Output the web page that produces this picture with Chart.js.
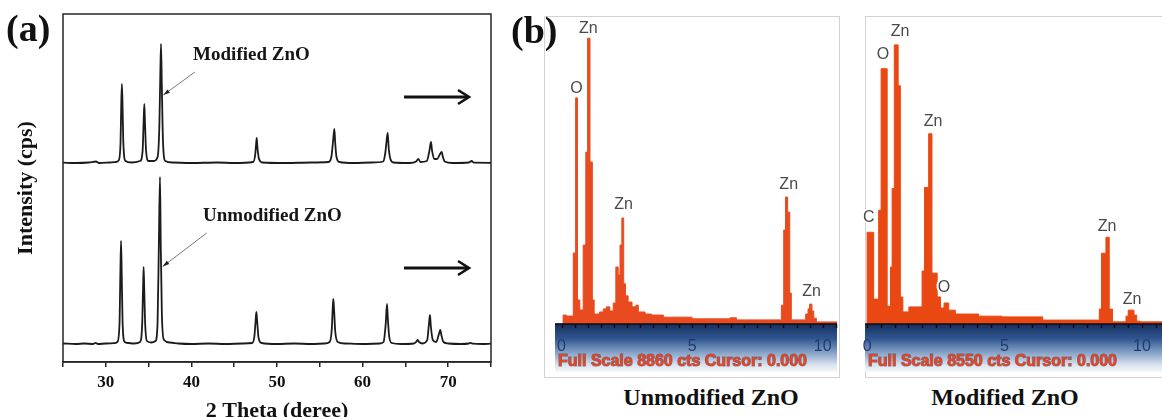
<!DOCTYPE html>
<html>
<head>
<meta charset="utf-8">
<script src="https://cdn.jsdelivr.net/npm/chart.js@4.4.1/dist/chart.umd.min.js"></script>
<style>
  html, body { margin: 0; padding: 0; background: #fff; }
  body { width: 1162px; height: 417px; position: relative; overflow: hidden; }
  canvas { position: absolute; }
  .lbl { position: absolute; font-family: 'Liberation Serif', 'Times New Roman', serif; font-weight: bold;
         color: #111; white-space: nowrap; line-height: 1; }
</style>
</head>
<body>
<canvas id="xrd" width="510" height="417" style="left:0;top:0"></canvas>
<canvas id="edsA" width="296" height="362" style="left:544px;top:16px"></canvas>
<canvas id="edsB" width="300" height="362" style="left:862px;top:16px"></canvas>
<div class="lbl" style="left:6px;top:9px;font-size:38px">(a)</div>
<div class="lbl" style="left:511px;top:11px;font-size:38px">(b)</div>
<div class="lbl" style="left:561px;top:385px;width:300px;text-align:center;font-size:24px">Unmodified ZnO</div>
<div class="lbl" style="left:855px;top:385px;width:300px;text-align:center;font-size:24px">Modified ZnO</div>
<script>
// (a) XRD patterns, 2θ in degrees, intensity above each pattern's own baseline
const unmodTheta = [25, 26.5, 27.5, 28.5, 28.8, 29.1, 30, 31, 31.35, 31.6, 31.7, 31.78, 31.86, 31.96, 32.2, 32.6,
  33.3, 34, 34.25, 34.35, 34.42, 34.5, 34.6, 34.8, 35.3, 35.8, 36.05, 36.2, 36.33, 36.42, 36.55, 36.8, 37.5, 38.5,
  40, 42, 44, 46, 47.1, 47.35, 47.5, 47.59, 47.68, 47.85, 48.2, 50, 52, 54, 55.5, 56.15, 56.4, 56.5, 56.58, 56.67,
  56.8, 57.1, 58, 60, 62, 62.45, 62.7, 62.85, 62.95, 63.1, 63.4, 64.5, 66, 66.3, 66.44, 66.6, 67, 67.55, 67.75,
  67.87, 67.97, 68.2, 68.6, 68.95, 69.08, 69.2, 69.45, 70, 71.5, 72.4, 72.63, 72.85, 74, 75];
const unmodCps = [5, 0, 5, 0, 12, 0, 5, 8, 20, 200, 700, 1030, 700, 220, 20, 10,
  5, 20, 200, 550, 770, 520, 200, 30, 15, 30, 220, 1000, 1670, 1000, 300, 40, 15, 5,
  0, 5, 0, 5, 10, 70, 230, 320, 230, 60, 10, 0, 5, 0, 5, 20, 150, 340, 450, 340,
  130, 20, 5, 0, 5, 20, 200, 400, 250, 80, 10, 0, 5, 25, 40, 20, 5, 40, 200,
  290, 180, 40, 20, 110, 140, 90, 20, 5, 0, 5, 12, 3, 0, 3];
const modTheta = [25, 26.5, 28, 28.86, 29.2, 30.5, 31.2, 31.5, 31.72, 31.8, 31.88, 31.96, 32.05, 32.3, 33,
  34, 34.3, 34.42, 34.5, 34.58, 34.7, 35, 35.6, 36.05, 36.25, 36.36, 36.45, 36.55, 36.68, 36.95, 37.8,
  40, 43, 45, 47.2, 47.45, 47.55, 47.63, 47.72, 47.9, 48.3, 51, 54, 56, 56.35, 56.55, 56.7, 56.8, 56.95, 57.3,
  59, 61, 62.4, 62.65, 62.8, 62.93, 63.05, 63.25, 63.6, 65.5, 66.25, 66.51, 66.75, 67.5, 67.8, 67.99, 68.12,
  68.4, 68.7, 69.05, 69.24, 69.38, 69.6, 70.5, 72.4, 72.74, 73, 75];
const modCps = [3, 0, 5, 15, 0, 5, 10, 25, 200, 560, 790, 560, 200, 20, 5,
  20, 120, 420, 590, 400, 130, 20, 20, 60, 350, 850, 1190, 750, 220, 20, 5,
  0, 5, 0, 10, 80, 180, 250, 150, 40, 5, 0, 5, 10, 60, 220, 340, 200, 60, 10,
  0, 5, 15, 100, 220, 300, 150, 40, 5, 0, 15, 40, 10, 20, 120, 210, 120,
  40, 40, 90, 110, 60, 15, 0, 5, 20, 3, 2];
const unmodOffset = 180;
const modOffset = 1990;
const thetaLabels = [30, 40, 50, 60, 70];

// (b) EDS spectra, stepped: each count holds from its energy to the next one
const unmodKeV = [-0.25, 0.06, 0.19, 0.45, 0.54, 0.61, 0.70, 0.83, 0.93, 1.00, 1.09, 1.18, 1.25, 1.45, 1.60, 1.72,
  1.85, 1.98, 2.08, 2.17, 2.24, 2.31, 2.38, 2.45, 2.55, 2.70, 2.85, 2.94, 3.20, 3.45, 3.90, 5.00, 6.45, 6.70,
  8.42, 8.51, 8.58, 8.66, 8.74, 8.80, 9.35, 9.44, 9.50, 9.59, 9.66, 9.76, 10.55];
const unmodCts = [0, 260, 230, 2070, 6590, 700, 410, 2300, 5010, 8330, 4720, 700, 290, 350, 440, 500,
  380, 610, 1660, 1430, 2300, 3090, 1170, 820, 640, 500, 550, 350, 290, 260, 200, 150, 180, 120,
  550, 2740, 3700, 3260, 900, 120, 290, 440, 580, 380, 170, 60, 60];
const modKeV = [-0.04, 0.00, 0.24, 0.42, 0.51, 0.73, 0.85, 0.91, 0.99, 1.13, 1.21, 1.30, 1.52, 2.00, 2.09, 2.24,
  2.36, 2.55, 2.67, 2.80, 2.97, 3.21, 4.06, 4.91, 6.39, 8.45, 8.53, 8.69, 8.81, 8.93, 9.42, 9.50, 9.71, 9.81,
  9.93, 10.73];
const modCts = [0, 2580, 700, 3200, 7180, 500, 1600, 3810, 7850, 6700, 760, 340, 480, 1490, 3840, 5350,
  1430, 760, 450, 590, 390, 280, 220, 200, 110, 420, 1990, 2440, 420, 60, 220, 390, 250, 80,
  60, 60];
const unmodPeakText = ['O', 'Zn', 'Zn', 'Zn', 'Zn'];
const unmodPeakKeV = [0.57, 1.03, 2.38, 8.70, 9.58];
const unmodPeakCts = [6850, 8600, 3470, 4050, 930];
const modPeakText = ['C', 'O', 'Zn', 'Zn', 'O', 'Zn', 'Zn'];
const modPeakKeV = [0.06, 0.58, 1.20, 2.40, 2.80, 8.73, 9.64];
const modPeakCts = [2990, 7580, 8230, 5680, 1020, 2730, 690];
const energyLabels = [0, 5, 10];

const serif = "'Liberation Serif', 'Times New Roman', serif";
const sans = "'Liberation Sans', Arial, sans-serif";

function toPoints(xs, ys, offset) {
  return xs.map((x, i) => ({ x: x, y: ys[i] + (offset || 0) }));
}

function arrowHead(ctx, x1, y1, x2, y2, len, spread) {
  const a = Math.atan2(y2 - y1, x2 - x1);
  ctx.beginPath();
  ctx.moveTo(x2, y2);
  ctx.lineTo(x2 - len * Math.cos(a - spread), y2 - len * Math.sin(a - spread));
  ctx.lineTo(x2 - len * Math.cos(a + spread), y2 - len * Math.sin(a + spread));
  ctx.closePath();
  ctx.fill();
}

// labels + arrows of panel (a), placed in data units
const xrdNotes = [
  { text: 'Modified ZnO', x: 40.2, y: 3070, from: [40.42, 2900], to: [36.72, 2670], shift: 2650 },
  { text: 'Unmodified ZnO', x: 41.36, y: 1460, from: [41.79, 1290], to: [36.65, 955], shift: 940 }
];

const xrdDecor = {
  id: 'xrdDecor',
  afterDraw(chart) {
    const { ctx, chartArea: a, scales: { x, y } } = chart;
    ctx.save();
    ctx.strokeStyle = '#262626';
    ctx.lineWidth = 1.5;
    ctx.strokeRect(a.left, a.top, a.right - a.left, a.bottom - a.top);
    // x axis title, sits on the bottom edge like in the source figure
    ctx.fillStyle = '#111';
    ctx.font = 'bold 22px ' + serif;
    ctx.textAlign = 'center';
    ctx.textBaseline = 'alphabetic';
    ctx.fillText('2 Theta (deree)', (a.left + a.right) / 2, 417);
    xrdNotes.forEach(n => {
      ctx.fillStyle = '#161616';
      ctx.font = 'bold 19px ' + serif;
      ctx.textBaseline = 'middle';
      ctx.textAlign = 'left';
      ctx.fillText(n.text, x.getPixelForValue(n.x), y.getPixelForValue(n.y));
      const x1 = x.getPixelForValue(n.from[0]), y1 = y.getPixelForValue(n.from[1]);
      const x2 = x.getPixelForValue(n.to[0]), y2 = y.getPixelForValue(n.to[1]);
      ctx.strokeStyle = '#777';
      ctx.lineWidth = 1;
      ctx.beginPath();
      ctx.moveTo(x1, y1);
      ctx.lineTo(x2, y2);
      ctx.stroke();
      ctx.fillStyle = '#222';
      arrowHead(ctx, x1, y1, x2, y2, 7, 0.3);
      // shift arrow
      const sx1 = x.getPixelForValue(64.84), sx2 = x.getPixelForValue(72.43), sy = y.getPixelForValue(n.shift);
      ctx.strokeStyle = '#111';
      ctx.lineWidth = 3;
      ctx.beginPath();
      ctx.moveTo(sx1, sy);
      ctx.lineTo(sx2 - 1, sy);
      ctx.stroke();
      ctx.lineWidth = 2.6;
      ctx.beginPath();
      ctx.moveTo(sx2 - 11, sy - 7);
      ctx.lineTo(sx2, sy);
      ctx.lineTo(sx2 - 11, sy + 7);
      ctx.stroke();
    });
    ctx.restore();
  }
};

new Chart(document.getElementById('xrd'), {
  type: 'line',
  data: {
    datasets: [
      { label: 'Unmodified ZnO', data: toPoints(unmodTheta, unmodCps, unmodOffset) },
      { label: 'Modified ZnO', data: toPoints(modTheta, modCps, modOffset) }
    ]
  },
  options: {
    responsive: false,
    animation: false,
    layout: { padding: { left: 10, right: 19, top: 14, bottom: 0 } },
    elements: {
      point: { radius: 0 },
      line: { borderColor: '#1b1b1b', borderWidth: 1.8, cubicInterpolationMode: 'monotone' }
    },
    plugins: { legend: { display: false }, tooltip: { enabled: false } },
    scales: {
      x: {
        type: 'linear',
        min: 25,
        max: 75,
        afterFit: s => { s.height = 55; },
        ticks: {
          stepSize: 5,
          autoSkip: false,
          maxRotation: 0,
          padding: 5,
          color: '#111',
          font: { family: serif, size: 17, weight: 'bold' },
          callback: v => thetaLabels.includes(v) ? String(v) : ''
        },
        grid: { drawOnChartArea: false, tickLength: 5, color: '#222', lineWidth: 1.5 },
        border: { display: true, color: '#262626', width: 1.5 }
      },
      y: {
        min: 0,
        max: 3480,
        afterFit: s => { s.width = 53; },
        ticks: { display: false },
        grid: { display: false },
        border: { display: false },
        title: {
          display: true,
          text: 'Intensity (cps)',
          color: '#111',
          padding: { top: 5, bottom: 0 },
          font: { family: serif, size: 22, weight: 'bold', lineHeight: 1 }
        }
      }
    }
  },
  plugins: [xrdDecor]
});

// EDS screenshot look: frame, blue energy band, ticks, captions, peak names
const edsDecor = {
  id: 'edsDecor',
  beforeDraw(chart, args, o) {
    const { ctx } = chart;
    ctx.save();
    ctx.fillStyle = '#fff';
    ctx.fillRect(0, 0, chart.width, chart.height);
    ctx.strokeStyle = '#d2d2d2';
    ctx.lineWidth = 1;
    ctx.beginPath();
    ctx.moveTo(chart.width, 0.5);
    ctx.lineTo(o.frameLeft + 0.5, 0.5);
    ctx.lineTo(o.frameLeft + 0.5, chart.height - 0.5);
    ctx.lineTo(chart.width, chart.height - 0.5);
    if (o.frameRight) {
      ctx.moveTo(chart.width - 0.5, 0);
      ctx.lineTo(chart.width - 0.5, chart.height);
    }
    ctx.stroke();
    ctx.restore();
  },
  afterDatasetsDraw(chart, args, o) {
    const { ctx, chartArea: a, scales: { x, y } } = chart;
    const top = a.bottom, h = 48;
    const left = o.bandLeft;
    ctx.save();
    const g = ctx.createLinearGradient(0, top, 0, top + h);
    g.addColorStop(0, '#15305e');
    g.addColorStop(0.3, '#2f5590');
    g.addColorStop(0.6, '#87a3c8');
    g.addColorStop(0.85, '#d8e2ef');
    g.addColorStop(1, '#f6f8fb');
    ctx.fillStyle = g;
    ctx.fillRect(left, top, a.right - left, h);
    ctx.strokeStyle = '#0d0d18';
    ctx.lineWidth = 1.5;
    ctx.beginPath();
    ctx.moveTo(left, top);
    ctx.lineTo(a.right, top);
    for (let e = 0; e <= x.max; e += 0.5) {
      const px = Math.round(x.getPixelForValue(e)) + 0.5;
      ctx.moveTo(px, top);
      ctx.lineTo(px, top + 4);
    }
    ctx.stroke();
    ctx.font = '16px ' + sans;
    ctx.textAlign = 'center';
    ctx.textBaseline = 'middle';
    ctx.fillStyle = '#223a70';
    energyLabels.forEach(e => ctx.fillText(String(e), x.getPixelForValue(e), top + 23));
    ctx.textAlign = 'left';
    ctx.font = 'bold 16px ' + sans;
    ctx.lineWidth = 1.2;
    ctx.strokeStyle = 'rgba(60,30,60,0.55)';
    ctx.strokeText(o.caption, left + 3, top + 38, o.captionWidth);
    ctx.fillStyle = '#e8431b';
    ctx.fillText(o.caption, left + 3, top + 38, o.captionWidth);

    ctx.font = '16px ' + sans;
    ctx.textAlign = 'center';
    o.peakText.forEach((t, i) => {
      const px = x.getPixelForValue(o.peakKeV[i]), py = y.getPixelForValue(o.peakCts[i]);
      ctx.lineWidth = 4;
      ctx.strokeStyle = '#fff';
      ctx.strokeText(t, px, py);
      ctx.fillStyle = '#4a4a4a';
      ctx.fillText(t, px, py);
    });
    ctx.restore();
  }
};

function edsChart(id, keV, cts, color, xMin, xMax, yMax, pad, deco) {
  return new Chart(document.getElementById(id), {
    type: 'line',
    data: {
      datasets: [{
        data: toPoints(keV, cts),
        stepped: true,
        fill: 'origin',
        borderColor: color,
        backgroundColor: color,
        borderWidth: 1,
        pointRadius: 0
      }]
    },
    options: {
      responsive: false,
      animation: false,
      layout: { padding: pad },
      plugins: { legend: { display: false }, tooltip: { enabled: false }, edsDecor: deco },
      scales: {
        x: { type: 'linear', min: xMin, max: xMax, display: false },
        y: { min: 0, max: yMax, display: false }
      }
    },
    plugins: [edsDecor]
  });
}

edsChart('edsA', unmodKeV, unmodCts, '#e84b1f', -0.25, 10.55, 8860,
  { left: 11, right: 3, top: 4, bottom: 54 },
  { frameLeft: 0, frameRight: true, bandLeft: 11, caption: 'Full Scale 8860 cts Cursor: 0.000', captionWidth: 250,
    peakText: unmodPeakText, peakKeV: unmodPeakKeV, peakCts: unmodPeakCts });

edsChart('edsB', modKeV, modCts, '#ea4812', -0.04, 10.73, 8550,
  { left: 4, right: 0, top: 4, bottom: 54 },
  { frameLeft: 3, frameRight: false, bandLeft: 3, caption: 'Full Scale 8550 cts Cursor: 0.000', captionWidth: 262,
    peakText: modPeakText, peakKeV: modPeakKeV, peakCts: modPeakCts });
</script>
</body>
</html>
